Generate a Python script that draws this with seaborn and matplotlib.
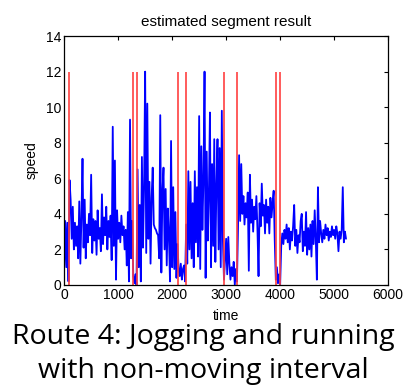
import numpy as np
import pandas as pd
import matplotlib
matplotlib.use("Agg")
import matplotlib.pyplot as plt
import seaborn as sns

# speed samples, one every 20 time units
speed = [
    1.1, 3.6, 1.0, 3.5, 0.2,
    5.9, 4.8, 2.6, 4.4, 2.0, 3.5, 2.2, 3.3, 1.5, 4.7, 1.2, 3.8, 7.1, 2.1, 4.8, 1.5, 3.4, 2.4, 4.0, 2.8,
    6.2, 1.8, 3.7, 2.5, 3.6, 1.7, 4.2, 2.6, 3.2, 1.9, 5.1, 2.3, 3.8, 2.8, 4.4, 2.0, 3.6, 2.7, 3.9, 1.4,
    8.9, 2.2, 7.0, 0.3, 4.2, 2.6, 3.5, 2.4, 3.9, 2.8, 3.3, 2.0, 3.1, 1.1, 4.1, 0.2, 9.3, 1.5, 3.6,
    0.5, 0.1, 0.6, 0.0,
    6.5, 1.0, 4.5, 0.2, 7.2, 2.1, 5.5, 12.0, 1.8, 10.2, 2.6, 5.8, 1.2, 4.9, 6.6, 3.4, 3.2, 3.1, 2.9,
    2.8, 1.5, 9.55, 0.7, 5.2, 6.6, 2.0, 5.4, 1.1, 4.3, 2.8, 0.2, 8.1, 1.0, 5.5, 0.9, 4.1, 0.4, 2.3,
    0.8, 0.5, 1.2, 0.3, 0.9, 1.1, 0.2,
    3.4, 1.2, 6.4, 2.0, 5.8, 1.5, 4.6, 1.0, 6.4, 2.4, 5.5, 1.6, 9.5, 0.9, 7.8, 3.1, 6.0, 12.0, 0.4,
    7.5, 2.5, 5.0, 9.7, 1.0, 6.8, 2.2, 8.2, 1.3, 5.6, 8.2, 2.0, 7.7, 1.0, 9.8, 2.5,
    0.3, 1.4, 2.6, 0.6, 2.7, 1.2, 0.3, 1.0, 0.5, 1.3, 0.0, 0.9, 0.2,
    3.2, 7.3, 3.6, 6.8, 4.0, 5.0, 3.4, 4.6, 3.8, 5.2, 0.8, 6.2, 3.5, 4.8, 3.0, 4.4, 3.7, 5.0, 3.1,
    0.5, 4.6, 3.3, 5.7, 3.9, 4.5, 2.9, 4.8, 3.5, 4.4, 2.9, 4.9, 3.8, 4.6, 5.3, 2.5, 0.3,
    1.0, 0.1, 0.6, 0.0,
    2.2, 2.9, 2.3, 3.1, 2.6, 3.4, 2.4, 3.2, 2.0, 3.0, 2.5, 3.3, 4.5, 2.2, 3.1, 1.8, 2.8, 2.4, 3.6,
    4.0, 1.9, 3.0, 2.2, 4.1, 1.7, 3.2, 2.0, 3.4, 1.6, 3.6, 2.3, 4.2, 2.6, 0.3, 5.5, 2.4, 3.6, 2.9,
    2.4, 3.1, 2.6, 3.4, 2.8, 3.2, 2.5, 3.0, 2.7, 3.3, 2.8, 3.1, 2.6, 3.3, 2.9, 1.9, 3.0, 2.6, 3.1,
    5.5, 2.4, 3.0, 2.6,
]
time = np.arange(len(speed)) * 20

# estimated segment boundaries
boundaries = [98, 1272, 1346, 2106, 2254, 2957, 3209, 3931, 3994]
boundary_top = 12

df = pd.DataFrame({"time": time, "speed": speed})

sns.set_style("white")
plt.rcParams["font.family"] = ["Liberation Sans", "DejaVu Sans"]
plt.rcParams["text.color"] = "black"
plt.rcParams["axes.labelcolor"] = "black"

fig = plt.figure(figsize=(4.06, 3.92), dpi=100)
ax = fig.add_axes([0.158, 0.273, 0.798, 0.635])

sns.lineplot(data=df, x="time", y="speed", ax=ax, color="#0000ff", linewidth=1.3)
ax.vlines(boundaries, 0, boundary_top, colors="#ff4040", linewidth=1.2)

ax.set_xlim(0, 6000)
ax.set_ylim(0, 14)
ax.set_xticks(range(0, 6001, 1000))
ax.set_yticks(range(0, 15, 2))
ax.tick_params(direction="in", top=True, right=True, length=3, width=0.8,
               labelsize=10, pad=2, colors="black")
for s in ax.spines.values():
    s.set_color("black")
    s.set_linewidth(0.9)

ax.set_title("estimated segment result", fontsize=11, pad=7, color="black")
ax.set_xlabel("time", fontsize=10, labelpad=5)
ax.set_ylabel("speed", fontsize=10, labelpad=5)

fig.text(0.5, 1 - 337 / 392, "Route 4: Jogging and running", ha="center", va="center",
         fontsize=20.5, color="black", family=["Open Sans", "DejaVu Sans"])
fig.text(0.5, 1 - 371 / 392, "with non-moving interval", ha="center", va="center",
         fontsize=20.5, color="black", family=["Open Sans", "DejaVu Sans"])

fig.savefig("out.png", dpi=100)
